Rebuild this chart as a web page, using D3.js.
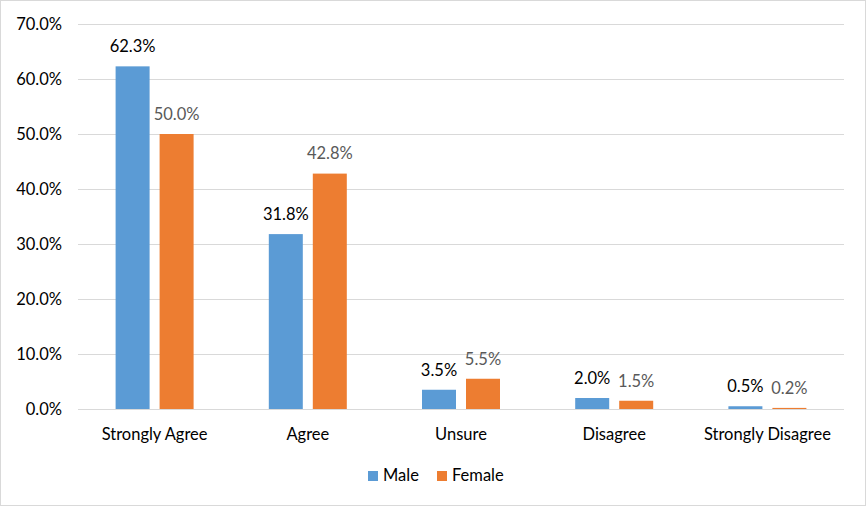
<!DOCTYPE html>
<html><head><meta charset="utf-8">
<script src="https://cdn.jsdelivr.net/npm/d3@7"></script>
<style>body{margin:0;background:#fff}svg{display:block;font-family:Lato,"Open Sans",sans-serif}</style>
</head><body><svg id="c" width="867" height="507"></svg>
<script>
const categories = ["Strongly Agree","Agree","Unsure","Disagree","Strongly Disagree"];
const seriesNames = ["Male","Female"];
const male = [62.3,31.8,3.5,2.0,0.5];
const female = [50.0,42.8,5.5,1.5,0.2];
const yTicks = [0,10,20,30,40,50,60,70];
const colors = ["#5B9BD5","#ED7D31"];
const labelColors = ["#000000","#595959"];

(function(){
const fs = 16.5;
const svg = d3.select("#c");
svg.append("rect").attr("x",0.5).attr("y",0.5).attr("width",865).attr("height",505)
  .attr("fill","#fff").attr("stroke","#d9d9d9");

const pLeft=78, pRight=844, pTop=24, pBottom=409;
const x = d3.scaleBand().domain(categories).range([pLeft,pRight]).paddingInner(0.491).paddingOuter(0.2455);
const y = d3.scaleLinear().domain([0,70]).range([pBottom,pTop]);
const bw = 34, gap = 10;

svg.append("g").selectAll("line").data(yTicks).join("line")
  .attr("x1",pLeft).attr("x2",pRight).attr("y1",d=>y(d)+0.5).attr("y2",d=>y(d)+0.5)
  .attr("stroke","#d9d9d9").attr("stroke-width",1);

svg.append("g").selectAll("text").data(yTicks).join("text")
  .attr("x",62).attr("y",d=>y(d)).attr("dy","0.35em").attr("text-anchor","end")
  .attr("font-size",fs).attr("fill","#000").text(d=>d.toFixed(1)+"%");

const series=[male,female];
const centerOf = c => x(c)+x.bandwidth()/2;
series.forEach((vals,si)=>{
  const off = si===0 ? -(gap/2+bw) : gap/2;
  const g = svg.append("g");
  g.selectAll("rect").data(categories).join("rect")
    .attr("x",c=>centerOf(c)+off).attr("width",bw)
    .attr("y",(c,i)=>y(vals[i])).attr("height",(c,i)=>pBottom-y(vals[i]))
    .attr("fill",colors[si]);
  g.selectAll("text").data(categories).join("text")
    .attr("x",c=>centerOf(c)+off+bw/2).attr("y",(c,i)=>y(vals[i])-20).attr("dy","0.35em")
    .attr("text-anchor","middle").attr("font-size",fs).attr("fill",labelColors[si])
    .text((c,i)=>vals[i].toFixed(1)+"%");
});

svg.append("line").attr("x1",pLeft).attr("x2",pRight).attr("y1",pBottom+0.5).attr("y2",pBottom+0.5).attr("stroke","#d9d9d9");

svg.append("g").selectAll("text").data(categories).join("text")
  .attr("x",c=>centerOf(c)).attr("y",434).attr("dy","0.35em").attr("text-anchor","middle")
  .attr("font-size",fs).attr("fill","#000").text(c=>c);

const legX = [368,437];
seriesNames.forEach((n,i)=>{
  svg.append("rect").attr("x",legX[i]).attr("y",471).attr("width",10).attr("height",10).attr("fill",colors[i]);
  svg.append("text").attr("x",legX[i]+15).attr("y",475.5).attr("dy","0.35em").attr("font-size",fs).attr("fill","#000").text(n);
});
})();
</script></body></html>
